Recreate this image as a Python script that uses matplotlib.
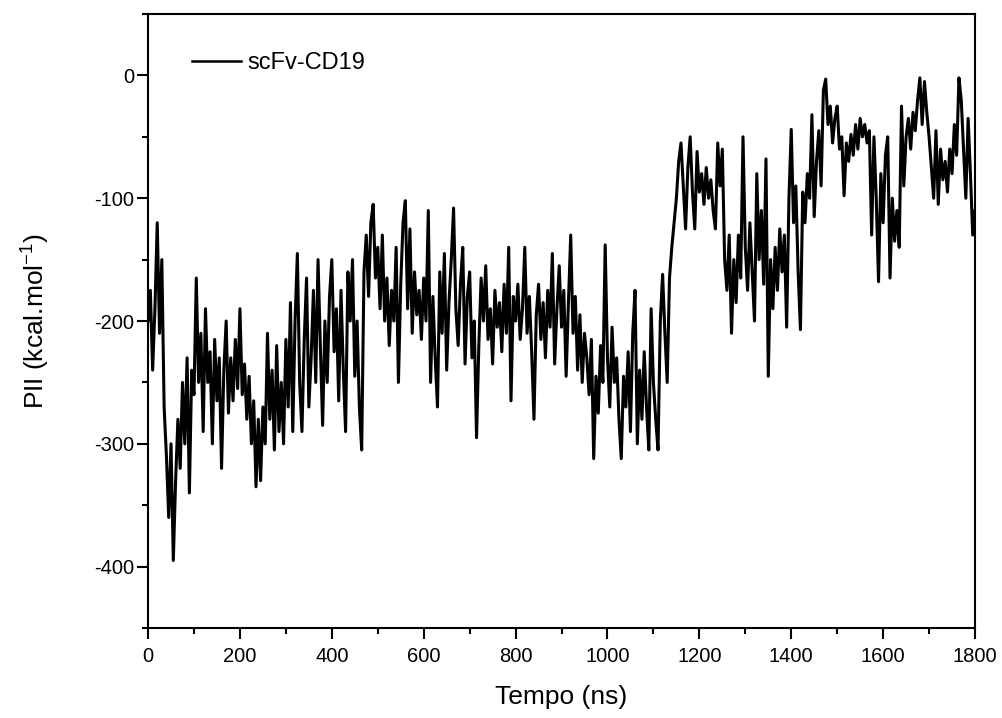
import numpy as np
import matplotlib
matplotlib.use('Agg')
import matplotlib.pyplot as plt
from matplotlib.ticker import MultipleLocator

# Simulation time (ns), one value every 5 ns
tempo = np.arange(0, 1805, 5)

# PII (kcal/mol), 20 values per 100 ns
pii = [
    # 0-95
    -200, -175, -240, -190, -120, -210, -150, -270, -310, -360,
    -300, -395, -330, -280, -320, -250, -300, -230, -340, -240,
    # 100-195
    -260, -165, -250, -210, -290, -190, -250, -225, -300, -215,
    -265, -230, -320, -240, -200, -275, -230, -265, -215, -255,
    # 200-295
    -190, -260, -235, -280, -245, -300, -265, -335, -280, -330,
    -270, -300, -210, -280, -240, -305, -220, -290, -250, -300,
    # 300-395
    -215, -270, -185, -290, -200, -145, -250, -290, -215, -165,
    -270, -230, -175, -250, -150, -220, -285, -200, -250, -180,
    # 400-495
    -150, -225, -190, -265, -175, -240, -290, -160, -200, -150,
    -245, -200, -270, -305, -160, -130, -180, -120, -105, -165,
    # 500-595
    -140, -190, -130, -200, -165, -220, -175, -200, -140, -250,
    -170, -120, -102, -190, -125, -210, -160, -195, -175, -215,
    # 600-695
    -165, -200, -110, -250, -180, -230, -270, -160, -210, -145,
    -240, -185, -150, -108, -190, -220, -170, -140, -235, -180,
    # 700-795
    -160, -230, -200, -295, -220, -165, -200, -155, -215, -190,
    -235, -175, -205, -185, -225, -170, -210, -140, -265, -180,
    # 800-895
    -200, -170, -215, -190, -140, -210, -180, -225, -280, -195,
    -170, -215, -185, -230, -175, -205, -145, -235, -190, -155,
    # 900-995
    -205, -175, -245, -185, -130, -210, -180, -240, -195, -250,
    -210, -230, -260, -215, -312, -245, -275, -220, -250, -138,
    # 1000-1095
    -230, -270, -205, -250, -230, -280, -312, -245, -270, -225,
    -290, -210, -175, -300, -240, -280, -225, -270, -305, -190,
    # 1100-1195
    -250, -280, -305, -200, -162, -210, -250, -165, -140, -120,
    -100, -70, -55, -90, -125, -75, -50, -95, -125, -62,
    # 1200-1295
    -95, -80, -105, -75, -100, -85, -110, -125, -55, -90,
    -60, -150, -175, -130, -210, -150, -185, -130, -165, -50,
    # 1300-1395
    -140, -175, -120, -160, -200, -80, -150, -110, -170, -68,
    -245, -150, -190, -140, -175, -125, -160, -130, -205, -100,
    # 1400-1495
    -44, -120, -90, -160, -207, -95, -120, -80, -100, -32,
    -115, -70, -45, -90, -12, -3, -40, -25, -55, -35,
    # 1500-1595
    -25, -60, -50, -98, -55, -70, -48, -65, -40, -60,
    -35, -50, -40, -55, -45, -130, -50, -100, -168, -80,
    # 1600-1695
    -120, -65, -50, -165, -100, -135, -110, -140, -25, -90,
    -50, -35, -60, -30, -45, -20, -2, -40, -5, -30,
    # 1700-1800
    -50, -75, -100, -45, -105, -60, -85, -70, -95, -60,
    -80, -40, -65, -2, -20, -60, -100, -35, -80, -130,
    -110,
]

series_label = 'scFv-CD19'
x_ticks = [0, 200, 400, 600, 800, 1000, 1200, 1400, 1600, 1800]
y_ticks = [-400, -300, -200, -100, 0]

plt.rcParams['font.family'] = ['Liberation Sans', 'DejaVu Sans']
plt.rcParams['mathtext.default'] = 'regular'
plt.rcParams['axes.unicode_minus'] = False

fig = plt.figure(figsize=(10.03, 7.18), dpi=100)
ax = fig.add_axes([0.1476, 0.1253, 0.8245, 0.8552])

ax.plot(tempo, pii, color='black', linewidth=2.2, label=series_label)

ax.set_xlim(0, 1800)
ax.set_ylim(-450, 50)
ax.set_xticks(x_ticks)
ax.set_yticks(y_ticks)
ax.xaxis.set_minor_locator(MultipleLocator(100))
ax.yaxis.set_minor_locator(MultipleLocator(50))

ax.tick_params(which='major', direction='out', length=8, width=1.5, labelsize=14.5)
ax.tick_params(which='minor', direction='out', length=4, width=1.5)
ax.tick_params(axis='x', which='major', pad=6)
ax.tick_params(axis='y', which='major', pad=2)
for side in ax.spines.values():
    side.set_linewidth(1.5)

ax.set_xlabel('Tempo (ns)', fontsize=19, labelpad=13)
ax.set_ylabel('PII (kcal.mol$^{-1}$)', fontsize=19, labelpad=30)

leg = ax.legend(loc='upper left', frameon=False, fontsize=17, handlelength=2.1,
                handletextpad=0.25, bbox_to_anchor=(0.027, 0.972))
for h in leg.get_lines():
    h.set_linewidth(1.8)

plt.savefig('out.png', dpi=100)
